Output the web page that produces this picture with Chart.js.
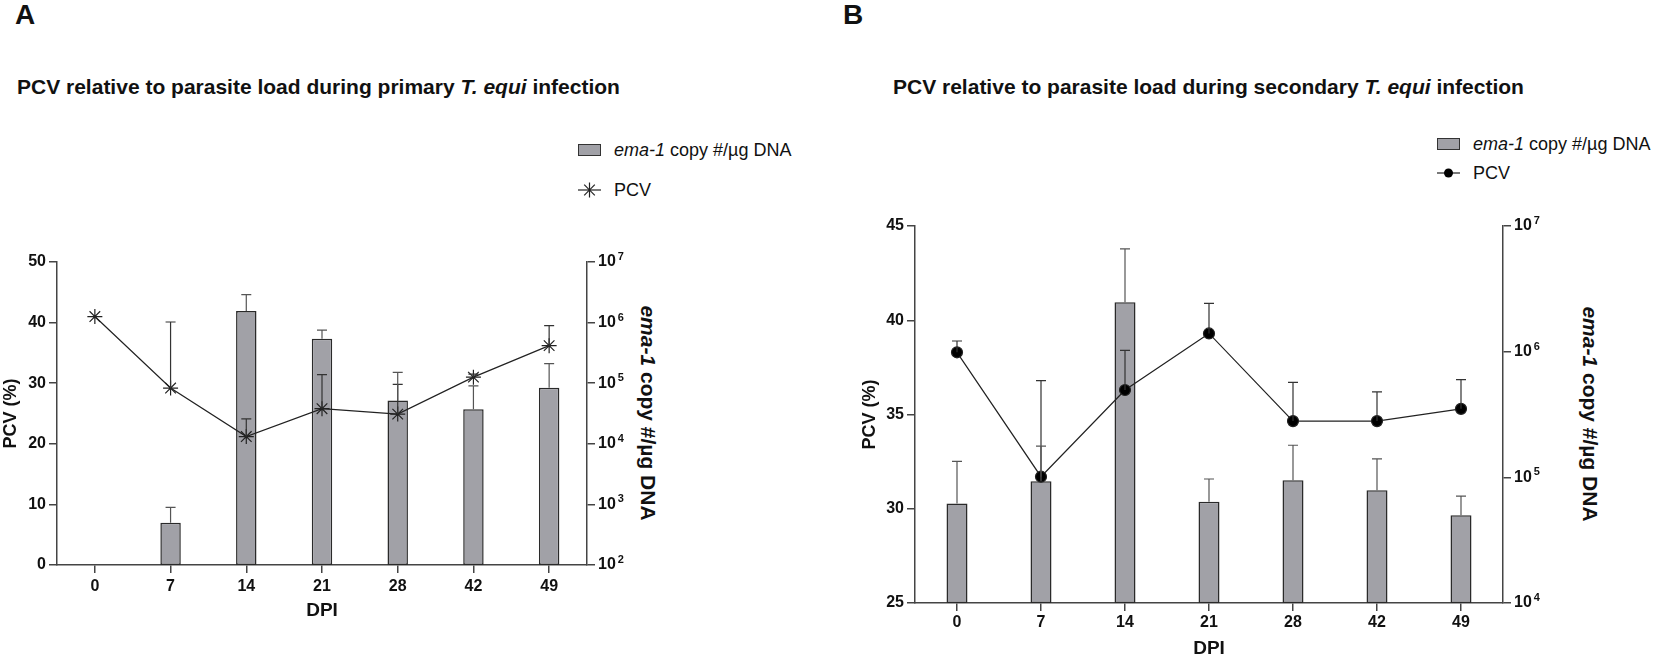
<!DOCTYPE html>
<html>
<head>
<meta charset="utf-8">
<script src="https://cdn.jsdelivr.net/npm/chart.js@4.4.1/dist/chart.umd.min.js"></script>
<style>
  html, body { margin: 0; padding: 0; background: #fff; }
  body { width: 1654px; height: 657px; position: relative; overflow: hidden;
         font-family: 'Liberation Sans', Arial, sans-serif; color: #111; }
  .abs { position: absolute; white-space: nowrap; }
  .panel { font-weight: bold; font-size: 28px; line-height: 28px; top: 1px; }
  .title { font-weight: bold; font-size: 21px; line-height: 21px; top: 76px; }
  .leg { font-size: 18px; line-height: 20px; height: 20px; display: flex; align-items: center; }
  .swatch { display: inline-block; width: 21px; height: 10px; background: #a1a1a7; border: 1px solid #333; }
  .ytitle { font-weight: bold; font-size: 21px; line-height: 24px; transform: translate(-50%, -50%) rotate(90deg); }
  canvas { position: absolute; }
</style>
</head>
<body>

<div class="abs panel" style="left:15px">A</div>
<div class="abs title" style="left:17px">PCV relative to parasite load during primary <i>T. equi</i> infection</div>
<div class="abs leg" style="left:578px; top:140px"><span class="swatch" style="margin-right:13px"></span><i>ema-1</i>&nbsp;copy #/µg DNA</div>
<div class="abs leg" style="left:578px; top:180px">
  <svg width="23" height="18" style="margin-right:13px"><g stroke="#222" stroke-width="1.2">
    <line x1="0" y1="9" x2="23" y2="9"/><line x1="11.5" y1="1.5" x2="11.5" y2="16.5"/>
    <line x1="6.2" y1="3.7" x2="16.8" y2="14.3"/><line x1="16.8" y1="3.7" x2="6.2" y2="14.3"/></g></svg>PCV</div>
<div class="abs ytitle" style="left:648px; top:413px"><i>ema-1</i> copy #/µg DNA</div>

<div class="abs panel" style="left:843px">B</div>
<div class="abs title" style="left:893px">PCV relative to parasite load during secondary <i>T. equi</i> infection</div>
<div class="abs leg" style="left:1437px; top:134px"><span class="swatch" style="margin-right:13px"></span><i>ema-1</i>&nbsp;copy #/µg DNA</div>
<div class="abs leg" style="left:1437px; top:163px">
  <svg width="23" height="14" style="margin-right:13px"><line x1="0" y1="7" x2="23" y2="7" stroke="#222" stroke-width="1.2"/>
    <circle cx="11.5" cy="7" r="4.5" fill="#000"/></svg>PCV</div>
<div class="abs ytitle" style="left:1590px; top:414px"><i>ema-1</i> copy #/µg DNA</div>

<canvas id="chartA" width="700" height="457" style="left:0px; top:200px"></canvas>
<canvas id="chartB" width="795" height="460" style="left:859px; top:200px"></canvas>

<script>
// days post infection (shared x axis)
var dpi = ['0', '7', '14', '21', '28', '42', '49'];

// panel A - primary infection
var pcvA = [41.0, 29.2, 21.2, 25.8, 24.9, 31.0, 36.2];
var pcvASd = [0, 10.9, 2.9, 5.6, 4.9, 0.5, 3.3];
var loadA = [null, 500, 1.56e6, 5.4e5, 5.2e4, 3.7e4, 8.4e4];
var loadASd = [null, 390, 1.34e6, 2.1e5, 9.9e4, 5.3e4, 1.27e5];
var leftTicksA = [0, 10, 20, 30, 40, 50];
var rightTicksA = [1e2, 1e3, 1e4, 1e5, 1e6, 1e7];
var rightExpA = ['2', '3', '4', '5', '6', '7'];

// panel B - secondary infection
var pcvB = [38.3, 31.7, 36.3, 39.3, 34.65, 34.65, 35.3];
var pcvBSd = [0.6, 5.1, 2.1, 1.6, 2.05, 1.55, 1.55];
var loadB = [6.2e4, 9.3e4, 2.47e6, 6.4e4, 9.5e4, 7.9e4, 5.0e4];
var loadBSd = [7.2e4, 8.4e4, 4.1e6, 3.3e4, 8.5e4, 6.1e4, 2.1e4];
var leftTicksB = [25, 30, 35, 40, 45];
var rightTicksB = [1e4, 1e5, 1e6, 1e7];
var rightExpB = ['4', '5', '6', '7'];

var fontFamily = "'Liberation Sans', Arial, sans-serif";
Chart.defaults.font.family = fontFamily;
Chart.defaults.color = '#111';

// draws the upper error bar (line + cap) for every dataset that has "sd"
var errorBars = {
  id: 'errorBars',
  afterDatasetsDraw: function (chart) {
    var ctx = chart.ctx;
    chart.data.datasets.forEach(function (ds, i) {
      if (!ds.sd) return;
      var meta = chart.getDatasetMeta(i);
      var yScale = chart.scales[ds.yAxisID];
      ctx.save();
      ctx.strokeStyle = ds.errColor;
      ctx.lineWidth = 1.2;
      meta.data.forEach(function (el, j) {
        var v = ds.data[j], e = ds.sd[j];
        if (v == null || !e) return;
        var y0 = yScale.getPixelForValue(v);
        var y1 = yScale.getPixelForValue(v + e);
        ctx.beginPath();
        ctx.moveTo(el.x, y0); ctx.lineTo(el.x, y1);
        ctx.moveTo(el.x - 5, y1); ctx.lineTo(el.x + 5, y1);
        ctx.stroke();
      });
      ctx.restore();
    });
  }
};

// "10" with a raised exponent next to each right-axis tick
function powerLabels(values, exps) {
  return {
    id: 'powerLabels',
    afterDraw: function (chart) {
      var s = chart.scales.y1, ctx = chart.ctx;
      var x = s.left + 11;
      ctx.save();
      ctx.fillStyle = '#111';
      ctx.textAlign = 'left';
      ctx.textBaseline = 'middle';
      values.forEach(function (v, i) {
        var y = s.getPixelForValue(v);
        ctx.font = 'bold 16px ' + fontFamily;
        ctx.fillText('10', x, y);
        var w = ctx.measureText('10').width;
        ctx.font = 'bold 11px ' + fontFamily;
        ctx.fillText(exps[i], x + w + 2, y - 5);
      });
      ctx.restore();
    }
  };
}

function makeChart(id, cfg) {
  var axisColor = '#444';
  var ctx = document.getElementById(id).getContext('2d');
  return new Chart(ctx, {
    data: {
      labels: dpi,
      datasets: [{
        type: 'line',
        label: 'PCV',
        data: cfg.pcv,
        sd: cfg.pcvSd,
        errColor: '#333',
        yAxisID: 'y',
        order: 0,
        borderColor: '#222',
        borderWidth: 1.2,
        pointStyle: cfg.pointStyle,
        pointRadius: cfg.pointRadius,
        pointBackgroundColor: '#000',
        pointBorderColor: '#222',
        pointBorderWidth: 1.2,
        tension: 0
      }, {
        type: 'bar',
        label: 'ema-1 copy #/µg DNA',
        data: cfg.load,
        sd: cfg.loadSd,
        errColor: '#555',
        yAxisID: 'y1',
        order: 1,
        backgroundColor: '#a1a1a7',
        borderColor: '#2a2a2a',
        borderWidth: 1.5,
        borderSkipped: false,
        categoryPercentage: 1,
        barPercentage: cfg.barPct
      }]
    },
    options: {
      responsive: false,
      animation: false,
      layout: { padding: cfg.padding },
      plugins: { legend: { display: false }, tooltip: { enabled: false } },
      scales: {
        x: {
          offset: true,
          grid: { display: true, drawOnChartArea: false, offset: false, tickLength: 8, color: axisColor, lineWidth: 1.5 },
          border: { color: axisColor, width: 1.5 },
          ticks: { font: { size: 16, weight: 'bold' }, padding: cfg.xPad },
          title: { display: true, text: 'DPI', font: { size: 19, weight: 'bold' }, padding: 0 },
          afterFit: function (s) { s.height = cfg.xHeight; }
        },
        y: {
          position: 'left',
          min: cfg.leftTicks[0],
          max: cfg.leftTicks[cfg.leftTicks.length - 1],
          afterBuildTicks: function (s) { s.ticks = cfg.leftTicks.map(function (v) { return { value: v }; }); },
          grid: { drawOnChartArea: false, tickLength: 8, color: axisColor, lineWidth: 1.5 },
          border: { color: axisColor, width: 1.5 },
          ticks: { font: { size: 16, weight: 'bold' }, padding: 3, autoSkip: false },
          title: { display: true, text: 'PCV (%)', font: { size: 18, weight: 'bold' }, padding: 0 },
          afterFit: function (s) { s.width = cfg.leftWidth; }
        },
        y1: {
          type: 'logarithmic',
          position: 'right',
          min: cfg.rightTicks[0],
          max: cfg.rightTicks[cfg.rightTicks.length - 1],
          afterBuildTicks: function (s) { s.ticks = cfg.rightTicks.map(function (v) { return { value: v }; }); },
          grid: { drawOnChartArea: false, tickLength: 8, color: axisColor, lineWidth: 1.5 },
          border: { color: axisColor, width: 1.5 },
          ticks: { display: false },
          afterFit: function (s) { s.width = cfg.rightWidth; }
        }
      }
    },
    plugins: [errorBars, powerLabels(cfg.rightTicks, cfg.rightExp)]
  });
}

makeChart('chartA', {
  pcv: pcvA, pcvSd: pcvASd, load: loadA, loadSd: loadASd,
  leftTicks: leftTicksA, rightTicks: rightTicksA, rightExp: rightExpA,
  pointStyle: 'star', pointRadius: 7.5, barPct: 0.27,
  padding: { top: 62, right: 38, bottom: 35, left: 0 },
  leftWidth: 57, rightWidth: 75, xHeight: 57, xPad: 4
});

makeChart('chartB', {
  pcv: pcvB, pcvSd: pcvBSd, load: loadB, loadSd: loadBSd,
  leftTicks: leftTicksB, rightTicks: rightTicksB, rightExp: rightExpB,
  pointStyle: 'circle', pointRadius: 5.5, barPct: 0.25,
  padding: { top: 26, right: 111, bottom: 0, left: 0 },
  leftWidth: 56, rightWidth: 40, xHeight: 57, xPad: 2
});
</script>
</body>
</html>
